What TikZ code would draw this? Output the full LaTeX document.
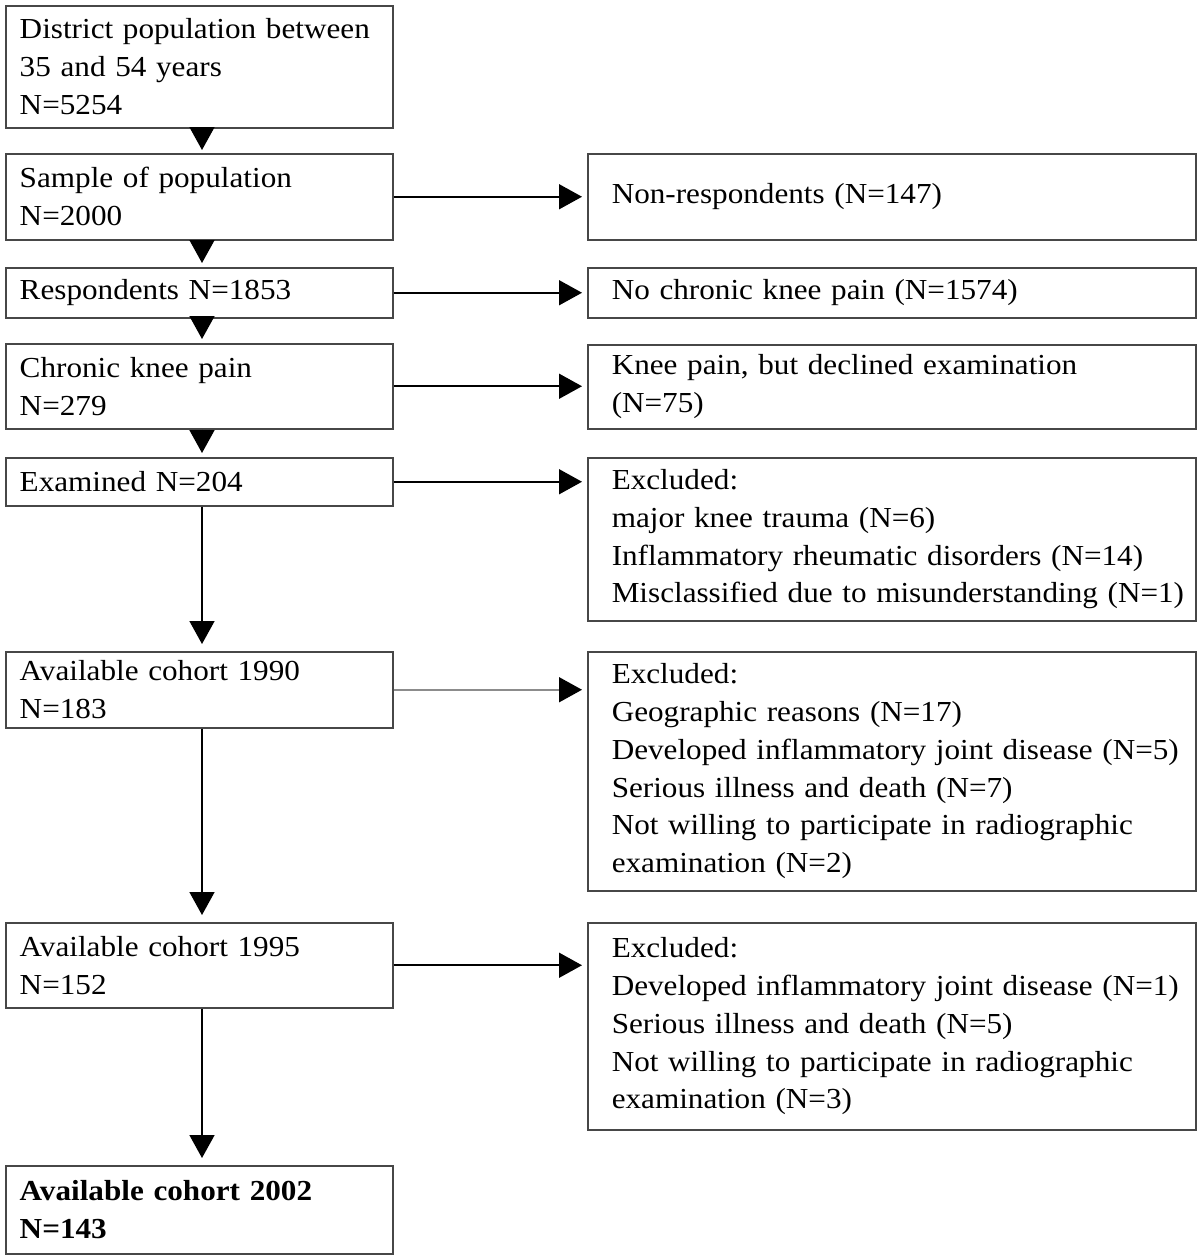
\documentclass[tikz,border=0pt]{standalone}
\usepackage{fontspec}
\setmainfont{Liberation Serif}[FakeStretch=1.075]
\usetikzlibrary{arrows.meta}
\tikzset{
  box/.style={draw=black!72, line width=1.5pt, anchor=north west, inner ysep=0pt,
    align=left, font=\fontsize{29pt}{37.8pt}\selectfont},
  lbox/.style={box, inner xsep=14pt, text width=359pt, minimum height=#1},
  rbox/.style={box, inner xsep=24pt, text width=560pt, minimum height=#1},
  arr/.style={draw=black, line width=1.6pt, -{Triangle[length=23pt,width=25pt,black]}},
}
\begin{document}
\begin{tikzpicture}[x=1pt,y=-1pt]
\useasboundingbox (0,0) rectangle (1200,1258);
% left column
\node[lbox=122pt] (L1) at (5,5) {\mbox{District population between}\\35 and 54 years\\N=5254};
\node[lbox=86pt] (L2) at (5,153) {Sample of population\\N=2000};
\node[lbox=50pt] (L3) at (5,267) {Respondents N=1853};
\node[lbox=85pt] (L4) at (5,343) {Chronic knee pain\\N=279};
\node[lbox=48pt] (L5) at (5,457) {Examined N=204};
\node[lbox=76pt] (L6) at (5,651) {Available cohort 1990\\N=183};
\node[lbox=85pt] (L7) at (5,922) {Available cohort 1995\\N=152};
\node[lbox=88pt] (L8) at (5,1165) {\textbf{Available cohort 2002}\\\textbf{N=143}};
% right column
\node[rbox=86pt] (R1) at (587,153) {Non-respondents (N=147)};
\node[rbox=50pt] (R2) at (587,267) {No chronic knee pain (N=1574)};
\node[rbox=84pt] (R3) at (587,344) {Knee pain, but declined examination\\(N=75)};
\node[rbox=163pt] (R4) at (587,457) {Excluded:\\major knee trauma (N=6)\\\mbox{Inflammatory rheumatic disorders (N=14)}\\\mbox{Misclassified due to misunderstanding (N=1)}};
\node[rbox=239pt] (R5) at (587,651) {Excluded:\\Geographic reasons (N=17)\\\mbox{Developed inflammatory joint disease (N=5)}\\Serious illness and death (N=7)\\\mbox{Not willing to participate in radiographic}\\examination (N=2)};
\node[rbox=207pt] (R6) at (587,922) {Excluded:\\\mbox{Developed inflammatory joint disease (N=1)}\\Serious illness and death (N=5)\\\mbox{Not willing to participate in radiographic}\\examination (N=3)};
% vertical arrows
\draw[arr, shorten >=3pt] (202,0 |- L1.south) -- (202,0 |- L2.north);
\draw[arr, shorten >=4pt] (202,0 |- L2.south) -- (202,0 |- L3.north);
\draw[arr, shorten >=4pt] (202,0 |- L3.south) -- (202,0 |- L4.north);
\draw[arr, shorten >=4pt] (202,0 |- L4.south) -- (202,0 |- L5.north);
\draw[arr, shorten >=7pt] (202,0 |- L5.south) -- (202,0 |- L6.north);
\draw[arr, shorten >=7pt] (202,0 |- L6.south) -- (202,0 |- L7.north);
\draw[arr, shorten >=7pt] (202,0 |- L7.south) -- (202,0 |- L8.north);
% horizontal arrows
\draw[arr, shorten >=5pt] (L2.east) -- (L2.east -| R1.west);
\draw[arr, shorten >=5pt] (L3.east) -- (L3.east -| R2.west);
\draw[arr, shorten >=5pt] (L4.east) -- (L4.east -| R3.west);
\draw[arr, shorten >=5pt] (L5.east) -- (L5.east -| R4.west);
\draw[arr, draw=black!45, shorten >=5pt] (L6.east) -- (L6.east -| R5.west);
\draw[arr, shorten >=5pt] (L7.east) -- (L7.east -| R6.west);
\end{tikzpicture}
\end{document}
